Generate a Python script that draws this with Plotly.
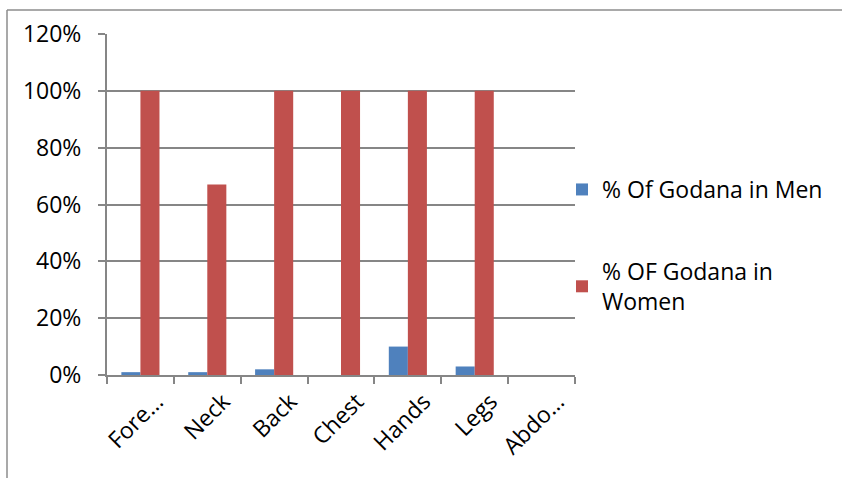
import plotly.graph_objects as go

categories = ["Forehead", "Neck", "Back", "Chest", "Hands", "Legs", "Abdomen"]
tick_labels = ["Fore…", "Neck", "Back", "Chest", "Hands", "Legs", "Abdo…"]
men = [0.01, 0.01, 0.02, 0.0, 0.10, 0.03, 0.0]
women = [1.0, 0.67, 1.0, 1.0, 1.0, 1.0, 0.0]
series_names = ["% Of Godana in Men", "% OF Godana in<br>Women"]

W, H = 842, 478
L, R, T, B = 107, 267, 34, 103
pw = W - L - R
ph = H - T - B

FONT = "Open Sans"
GRAY = "#868686"
FS = 23

fig = go.Figure()
fig.add_trace(go.Bar(x=categories, y=men, name=series_names[0],
                     marker=dict(color="#4F81BD", line=dict(width=0)),
                     legendgroup="a"))
fig.add_trace(go.Bar(x=categories, y=women, name=series_names[1],
                     marker=dict(color="#C0504D", line=dict(width=0)),
                     legendgroup="b"))

# outer frame lines (top and left)
fig.add_shape(type="line", xref="paper", yref="paper",
              x0=(7 - L) / pw, x1=(W + 5 - L) / pw,
              y0=(H - 10 - B) / ph, y1=(H - 10 - B) / ph,
              line=dict(color="#8C8C8C", width=1.5))
fig.add_shape(type="line", xref="paper", yref="paper",
              x0=(7 - L) / pw, x1=(7 - L) / pw,
              y0=(H - 10 - B) / ph, y1=(-10 - B) / ph,
              line=dict(color="#8C8C8C", width=1.5))

fig.update_layout(
    width=W, height=H,
    margin=dict(l=L, r=R, t=T, b=B, autoexpand=False),
    paper_bgcolor="white", plot_bgcolor="white",
    barmode="group", bargap=0.43, bargroupgap=0,
    font=dict(family=FONT, size=FS, color="black"),
    showlegend=True,
    legend=dict(x=(562 - L) / pw, xanchor="left", y=(H - B - 168) / ph, yanchor="top",
                xref="paper", yref="paper",
                traceorder="grouped", tracegroupgap=49,
                font=dict(size=FS), itemwidth=30,
                bgcolor="rgba(0,0,0,0)"),
    xaxis=dict(tickmode="array", tickvals=categories, ticktext=tick_labels,
               tickangle=-45, tickson="boundaries", ticks="outside",
               ticklen=7, tickcolor=GRAY, tickwidth=2, automargin=False,
               ticklabelshift=16, ticklabelstandoff=2,
               showline=True, linecolor=GRAY, linewidth=2,
               showgrid=False, tickfont=dict(size=FS)),
    yaxis=dict(range=[0, 1.2], dtick=0.2, tickformat=".0%",
               ticks="outside", ticklen=7, tickcolor=GRAY, tickwidth=2,
               showline=True, linecolor=GRAY, linewidth=2, automargin=False,
               showgrid=True, gridcolor=GRAY, gridwidth=2,
               zeroline=False, ticklabelstandoff=12,
               tickfont=dict(size=FS)),
)

fig.write_html("out.html", config={"displayModeBar": False},
               post_script="document.body.style.margin='0';document.body.style.overflow='hidden';")
